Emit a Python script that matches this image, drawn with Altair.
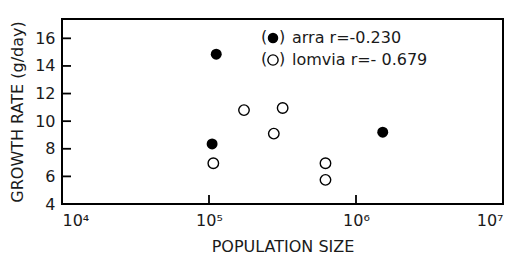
import altair as alt
import pandas as pd

# ---- data ----
arra_pop = [1.12e5, 1.05e5, 1.52e6]
arra_rate = [14.85, 8.35, 9.2]
lomvia_pop = [1.07e5, 1.73e5, 2.76e5, 3.17e5, 6.2e5, 6.2e5]
lomvia_rate = [6.95, 10.8, 9.1, 10.95, 6.95, 5.75]

x_ticks = [1e4, 1e5, 1e6, 1e7]
x_tick_labels = ["10⁴", "10⁵", "10⁶", "10⁷"]
x_inner_ticks = [1e5, 1e6]
y_ticks = [4, 6, 8, 10, 12, 14, 16]
y_inner_ticks = [6, 8, 10, 12, 14, 16]
legend_labels = ["arra r=-0.230", "lomvia r=- 0.679"]

FONT = "DejaVu Sans"
INK = "#1a1a1a"

pts = pd.DataFrame(
    {"pop": arra_pop + lomvia_pop,
     "rate": arra_rate + lomvia_rate,
     "species": ["arra"] * len(arra_pop) + ["lomvia"] * len(lomvia_pop)}
)

label_expr = " : ".join(
    f"datum.value == {int(v)} ? '{l}'" for v, l in zip(x_ticks, x_tick_labels)
) + " : ''"

xscale = alt.Scale(type="log", domain=[1e4, 1e7], nice=False)
yscale = alt.Scale(domain=[4, 17.4], nice=False, zero=False)

xaxis = alt.Axis(values=x_ticks, labelExpr=label_expr, title="POPULATION SIZE",
                 domain=False, ticks=False, grid=False, labelPadding=8,
                 titlePadding=10, labelFontSize=16, titleFontSize=16,
                 labelFont=FONT, titleFont=FONT, labelColor=INK, titleColor=INK,
                 titleFontWeight="normal", labelOverlap=False)
yaxis = alt.Axis(values=y_ticks, title="GROWTH RATE (g/day)", domain=False,
                 ticks=False, grid=False, labelPadding=7, titlePadding=9,
                 labelFontSize=16, titleFontSize=16, labelFont=FONT,
                 titleFont=FONT, labelColor=INK, titleColor=INK,
                 titleFontWeight="normal", labelOverlap=False,
                 format="d")

base = alt.Chart(pts)

filled = base.transform_filter(alt.datum.species == "arra").mark_point(
    shape="circle", filled=True, size=120, color="black", opacity=1
).encode(x=alt.X("pop:Q", scale=xscale, axis=xaxis),
         y=alt.Y("rate:Q", scale=yscale, axis=yaxis))

hollow = base.transform_filter(alt.datum.species == "lomvia").mark_point(
    shape="circle", filled=False, size=110, color="black", strokeWidth=1.4,
    opacity=1
).encode(x=alt.X("pop:Q", scale=xscale, axis=xaxis),
         y=alt.Y("rate:Q", scale=yscale, axis=yaxis))

xt = alt.Chart(pd.DataFrame({"v": x_inner_ticks})).mark_rule(
    color="black", strokeWidth=1.8
).encode(x=alt.X("v:Q", scale=xscale, axis=xaxis), y=alt.value(185),
         y2=alt.value(176))

yt = alt.Chart(pd.DataFrame({"v": y_inner_ticks})).mark_rule(
    color="black", strokeWidth=1.8
).encode(y=alt.Y("v:Q", scale=yscale, axis=yaxis), x=alt.value(0),
         x2=alt.value(9))

leg_rows = [19, 41]
legend_layers = []
for i, (lab, sp) in enumerate(zip(legend_labels, ["arra", "lomvia"])):
    d = pd.DataFrame({"label": [lab]})
    c = alt.Chart(d)
    legend_layers.append(c.mark_text(
        align="left", baseline="middle", font=FONT, fontSize=16, color=INK
    ).encode(text="label:N", x=alt.value(230), y=alt.value(leg_rows[i])))
    legend_layers.append(c.mark_text(
        align="center", baseline="middle", font=FONT, fontSize=16, color=INK
    ).encode(text=alt.value("("), x=alt.value(202), y=alt.value(leg_rows[i] - 1)))
    legend_layers.append(c.mark_text(
        align="center", baseline="middle", font=FONT, fontSize=16, color=INK
    ).encode(text=alt.value(")"), x=alt.value(220), y=alt.value(leg_rows[i] - 1)))
    if sp == "arra":
        legend_layers.append(c.mark_point(
            shape="circle", filled=True, size=110, color="black", opacity=1
        ).encode(x=alt.value(211), y=alt.value(leg_rows[i])))
    else:
        legend_layers.append(c.mark_point(
            shape="circle", filled=False, size=105, color="black",
            strokeWidth=1.4, opacity=1
        ).encode(x=alt.value(211), y=alt.value(leg_rows[i])))

chart = alt.layer(filled, hollow, xt, yt, *legend_layers).properties(
    width=441, height=185,
    background="white",
    autosize=alt.AutoSizeParams(type="none"),
    padding={"left": 54, "top": 11, "right": 5, "bottom": 52},
).configure_view(stroke="black", strokeWidth=2).configure_axis(
    labelOverlap=False
)

chart.save("out.html", embed_options={"renderer": "svg", "actions": False})
